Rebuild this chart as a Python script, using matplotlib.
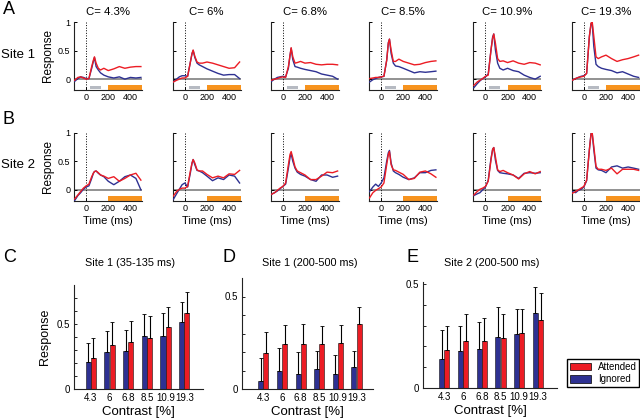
import numpy as np
import matplotlib.pyplot as plt
from matplotlib.patches import Patch

plt.rcParams['font.family'] = ['Liberation Sans', 'DejaVu Sans']

W, H = 640, 418
red = '#ec1c24'
blue = '#2e3192'
orange = '#f7931e'
light = '#b6bac2'

# time courses (ms)
times = [-105, -75, -50, -25, 0, 25, 50, 65, 75, 90, 110, 130, 160, 200, 250, 300, 350, 400, 450, 495]
contrasts = ['4.3', '6', '6.8', '8.5', '10.9', '19.3']

site1_att = [
    [-0.02, 0.03, 0.04, 0.02, 0.0, 0.01, 0.22, 0.33, 0.39, 0.28, 0.19, 0.16, 0.19, 0.15, 0.18, 0.22, 0.19, 0.21, 0.22, 0.22],
    [-0.05, -0.02, 0.0, 0.02, 0.02, 0.05, 0.30, 0.45, 0.51, 0.40, 0.30, 0.28, 0.28, 0.30, 0.28, 0.25, 0.22, 0.19, 0.20, 0.30],
    [-0.02, 0.0, 0.01, 0.03, 0.04, 0.03, 0.22, 0.42, 0.55, 0.39, 0.28, 0.29, 0.31, 0.28, 0.29, 0.26, 0.25, 0.26, 0.26, 0.25],
    [0.01, 0.02, 0.03, 0.03, 0.04, 0.05, 0.33, 0.63, 0.70, 0.51, 0.31, 0.31, 0.35, 0.31, 0.28, 0.25, 0.26, 0.29, 0.31, 0.32],
    [-0.11, -0.05, -0.02, 0.01, 0.05, 0.07, 0.51, 0.72, 0.79, 0.63, 0.36, 0.31, 0.32, 0.29, 0.32, 0.28, 0.26, 0.29, 0.28, 0.25],
    [-0.02, 0.01, 0.03, 0.04, 0.05, 0.10, 0.75, 0.98, 1.01, 0.75, 0.39, 0.36, 0.39, 0.42, 0.36, 0.31, 0.34, 0.36, 0.39, 0.42],
]
site1_ign = [
    [-0.04, 0.01, 0.04, 0.03, 0.01, 0.01, 0.19, 0.31, 0.38, 0.22, 0.16, 0.11, 0.07, 0.04, 0.02, 0.04, 0.0, 0.03, 0.02, 0.03],
    [-0.05, 0.0, 0.04, 0.06, 0.06, 0.05, 0.30, 0.45, 0.50, 0.38, 0.28, 0.25, 0.22, 0.18, 0.14, 0.10, 0.07, 0.08, 0.08, 0.01],
    [-0.04, 0.0, 0.03, 0.04, 0.05, 0.04, 0.19, 0.42, 0.54, 0.34, 0.22, 0.21, 0.19, 0.17, 0.15, 0.13, 0.09, 0.07, 0.05, 0.0],
    [-0.05, -0.01, 0.01, 0.03, 0.04, 0.05, 0.33, 0.64, 0.70, 0.45, 0.28, 0.23, 0.22, 0.19, 0.15, 0.11, 0.13, 0.12, 0.13, 0.14],
    [-0.15, -0.08, -0.03, 0.01, 0.04, 0.09, 0.51, 0.74, 0.79, 0.51, 0.28, 0.19, 0.16, 0.19, 0.15, 0.13, 0.07, 0.03, 0.0, 0.05],
    [-0.02, 0.01, 0.03, 0.05, 0.06, 0.10, 0.75, 0.97, 0.99, 0.57, 0.26, 0.22, 0.19, 0.17, 0.15, 0.11, 0.13, 0.09, 0.05, 0.03],
]
site2_att = [
    [-0.16, -0.09, -0.03, 0.03, 0.07, 0.10, 0.23, 0.29, 0.32, 0.33, 0.30, 0.26, 0.24, 0.20, 0.23, 0.15, 0.20, 0.26, 0.29, 0.17],
    [-0.11, -0.03, 0.01, 0.03, 0.03, 0.06, 0.33, 0.47, 0.53, 0.47, 0.35, 0.33, 0.33, 0.27, 0.21, 0.24, 0.21, 0.28, 0.27, 0.34],
    [-0.08, -0.05, -0.01, 0.03, 0.06, 0.12, 0.44, 0.62, 0.67, 0.56, 0.40, 0.33, 0.30, 0.26, 0.18, 0.18, 0.24, 0.31, 0.30, 0.33],
    [-0.14, -0.05, -0.01, 0.02, 0.05, 0.12, 0.44, 0.62, 0.67, 0.44, 0.35, 0.34, 0.31, 0.27, 0.18, 0.20, 0.31, 0.33, 0.28, 0.22],
    [-0.09, -0.03, 0.01, 0.03, 0.06, 0.15, 0.52, 0.71, 0.74, 0.58, 0.35, 0.32, 0.34, 0.30, 0.26, 0.19, 0.28, 0.32, 0.28, 0.32],
    [-0.06, -0.03, 0.0, 0.03, 0.06, 0.17, 0.70, 0.98, 1.00, 0.76, 0.41, 0.36, 0.36, 0.34, 0.38, 0.28, 0.36, 0.36, 0.36, 0.34],
]
site2_ign = [
    [-0.19, -0.10, -0.05, 0.01, 0.05, 0.07, 0.20, 0.29, 0.32, 0.33, 0.29, 0.26, 0.23, 0.15, 0.09, 0.15, 0.23, 0.26, 0.20, 0.0],
    [-0.17, -0.07, 0.01, 0.09, 0.12, 0.05, 0.30, 0.47, 0.53, 0.44, 0.34, 0.33, 0.30, 0.24, 0.16, 0.21, 0.18, 0.26, 0.24, 0.12],
    [-0.08, -0.05, -0.02, 0.02, 0.06, 0.10, 0.38, 0.57, 0.63, 0.50, 0.38, 0.31, 0.27, 0.24, 0.18, 0.15, 0.26, 0.26, 0.22, 0.24],
    [-0.03, 0.05, 0.10, 0.06, 0.12, 0.21, 0.50, 0.65, 0.69, 0.47, 0.33, 0.30, 0.27, 0.22, 0.18, 0.21, 0.30, 0.30, 0.34, 0.35],
    [-0.10, -0.07, -0.05, 0.0, 0.05, 0.17, 0.55, 0.71, 0.74, 0.52, 0.34, 0.30, 0.29, 0.28, 0.26, 0.20, 0.29, 0.30, 0.29, 0.30],
    [-0.03, -0.05, -0.01, 0.01, 0.05, 0.16, 0.71, 0.99, 1.00, 0.70, 0.38, 0.35, 0.34, 0.30, 0.40, 0.42, 0.38, 0.40, 0.38, 0.36],
]

# bar data: mean and error
c_ign = [0.204, 0.288, 0.296, 0.406, 0.408, 0.515]
c_ign_err = [0.153, 0.158, 0.158, 0.168, 0.176, 0.153]
c_att = [0.24, 0.342, 0.36, 0.39, 0.474, 0.584]
c_att_err = [0.15, 0.171, 0.16, 0.174, 0.159, 0.163]

d_ign = [0.045, 0.095, 0.079, 0.106, 0.083, 0.117]
d_ign_err = [0.12, 0.124, 0.122, 0.099, 0.102, 0.088]
d_att = [0.196, 0.243, 0.245, 0.245, 0.25, 0.349]
d_att_err = [0.113, 0.104, 0.107, 0.097, 0.097, 0.093]

e_ign = [0.139, 0.177, 0.188, 0.246, 0.259, 0.361]
e_ign_err = [0.141, 0.122, 0.13, 0.142, 0.121, 0.125]
e_att = [0.184, 0.228, 0.228, 0.241, 0.264, 0.327]
e_att_err = [0.115, 0.127, 0.107, 0.117, 0.116, 0.13]


def px_axes(fig, left, top, w, h):
    return fig.add_axes([left / W, 1 - (top + h) / H, w / W, h / H])


def style(ax):
    for s in ['top', 'right']:
        ax.spines[s].set_visible(False)
    for s in ['left', 'bottom']:
        ax.spines[s].set_color('#222222')
        ax.spines[s].set_linewidth(0.8)


fig = plt.figure(figsize=(W / 100, H / 100), dpi=100)

lefts = [74, 172.7, 270.7, 369, 473.3, 571.7]
rows = [(site1_att, site1_ign, 22, True), (site2_att, site2_ign, 132.7, False)]

for r, (att, ign, top, first) in enumerate(rows):
    for i in range(6):
        ax = px_axes(fig, lefts[i], top, 68, 68)
        style(ax)
        ax.axhline(0, color='#7f7f7f', lw=1.2, zorder=1)
        ax.axvline(0, color='k', ls=':', lw=0.7, zorder=1)
        ax.fill_between([200, 505], -0.19, -0.105, color=orange, lw=0, zorder=2)
        if first:
            ax.fill_between([35, 135], -0.17, -0.12, color=light, lw=0, zorder=2)
        ax.plot(times, ign[i], color=blue, lw=1.0, zorder=3)
        ax.plot(times, att[i], color=red, lw=1.0, zorder=4)
        ax.set_xlim(-110, 505)
        ax.set_ylim(-0.19, 1.0)
        ax.set_xticks([0, 200, 400])
        ax.set_yticks([0, 0.5, 1])
        ax.tick_params(direction='in', length=2.5, width=0.7, labelsize=6.5, pad=2.5)
        if i == 0:
            ax.set_yticklabels(['0', '0.5', '1'])
            ax.set_ylabel('Response', fontsize=8.5, labelpad=3)
        else:
            ax.set_yticklabels([])
        if first:
            ax.set_title('C= ' + contrasts[i] + '%', fontsize=8.2, pad=5)
        else:
            ax.set_xlabel('Time (ms)', fontsize=8, labelpad=2)

fig.text(1 / W, 1 - 55 / H, 'Site 1', fontsize=9.5, ha='left', va='center')
fig.text(1 / W, 1 - 165 / H, 'Site 2', fontsize=9.5, ha='left', va='center')

x = np.arange(1, 7)
bar_panels = [
    (74, 285, 129, 104, (0.1, 7.0), 0.8, c_ign, c_ign_err, c_att, c_att_err, 'Site 1 (35-135 ms)', 130, True),
    (242.3, 278, 131, 111, (-0.13, 6.9), 0.6, d_ign, d_ign_err, d_att, d_att_err, 'Site 1 (200-500 ms)', 310, False),
    (423.3, 282, 133.4, 106, (-0.12, 7.0), 0.51, e_ign, e_ign_err, e_att, e_att_err, 'Site 2 (200-500 ms)', 492, False),
]
for left, top, w, h, xl, ytop, ig, ige, at, ate, title, tx, lab in bar_panels:
    ax = px_axes(fig, left, top, w, h)
    style(ax)
    ax.bar(x - 0.14, ig, 0.27, color=blue, edgecolor='#111111', lw=0.4, zorder=2)
    ax.bar(x + 0.14, at, 0.27, color=red, edgecolor='#111111', lw=0.4, zorder=2)
    ax.errorbar(x - 0.14, ig, yerr=[np.zeros(6), ige], fmt='none', ecolor='k',
                elinewidth=0.8, capsize=1.2, capthick=0.6, zorder=3)
    ax.errorbar(x + 0.14, at, yerr=[np.zeros(6), ate], fmt='none', ecolor='k',
                elinewidth=0.8, capsize=1.2, capthick=0.6, zorder=3)
    ax.set_xlim(*xl)
    ax.set_ylim(0, ytop)
    ax.set_xticks(x)
    ax.set_xticklabels(contrasts)
    ax.set_yticks([0, 0.5])
    ax.set_yticklabels(['0', '0.5'])
    ax.set_yticks(np.arange(0.1, ytop, 0.1), minor=True)
    ax.tick_params(axis='x', length=0, labelsize=7, pad=3)
    ax.tick_params(axis='y', direction='in', length=2.5, width=0.6, labelsize=7, pad=3)
    ax.tick_params(axis='y', which='minor', direction='in', length=2, width=0.6)
    fig.text(tx / W, 1 - 263 / H, title, fontsize=7.8, ha='center', va='center')
    ax.set_xlabel('Contrast [%]', fontsize=9.5, labelpad=2)
    if lab:
        ax.set_ylabel('Response', fontsize=9, labelpad=4)

fig.legend(handles=[Patch(facecolor=red, edgecolor='k', lw=0.5), Patch(facecolor=blue, edgecolor='k', lw=0.5)],
           labels=['Attended', 'Ignored'], loc='upper right', bbox_to_anchor=(639.5 / W, 1 - 359 / H),
           fontsize=7, frameon=True, fancybox=False, edgecolor='k', framealpha=1,
           handlelength=2.2, handleheight=0.75, borderpad=0.3, labelspacing=0.25, handletextpad=0.7,
           borderaxespad=0)

for letter, lx, ly in [('A', 3, 9), ('B', 3, 119), ('C', 3, 257), ('D', 223, 257), ('E', 407, 257)]:
    fig.text(lx / W, 1 - ly / H, letter, fontsize=13, ha='left', va='center')

fig.savefig('out.png', dpi=100)
